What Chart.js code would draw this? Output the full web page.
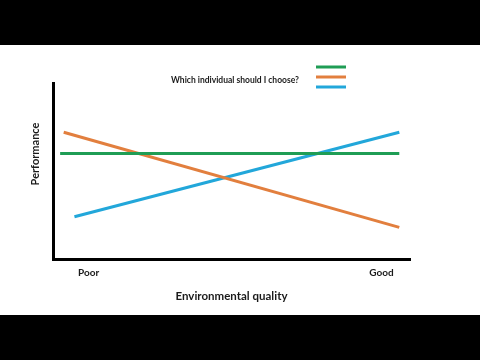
<!DOCTYPE html>
<html>
<head>
<meta charset="utf-8">
<script src="https://cdn.jsdelivr.net/npm/chart.js@4"></script>
<style>
    html, body { margin: 0; padding: 0; background: #fff; }
    #wrap { width: 480px; height: 360px; }
</style>
</head>
<body>
<div id="wrap"><canvas id="perfChart" width="480" height="360"></canvas></div>
<script>
// Dati (qualità ambientale 0-100, performance 0-100)
const individuals = ['Individual A', 'Individual B', 'Individual C'];
const lineColors = ['#1f9d55', '#e27f3e', '#22a7da'];
const qualityX = [[2, 97], [3, 97], [6, 97]];
const performanceY = [[60, 60], [72, 18], [24, 72]];
const tickValues = [10, 92];
const tickLabels = ['Poor', 'Good'];
const questionText = 'Which individual should I choose?';
const yTitle = 'Performance';

const FONT = 'Lato, "Open Sans", sans-serif';

// Bande nere sopra e sotto, titolo asse y e legenda a trattini
const framePlugin = {
    id: 'frame',
    beforeDraw: function(chart) {
        const ctx = chart.ctx;
        ctx.save();
        ctx.fillStyle = '#ffffff';
        ctx.fillRect(0, 0, chart.width, chart.height);
        ctx.fillStyle = '#000000';
        ctx.fillRect(0, 0, chart.width, 45);
        ctx.fillRect(0, 315, chart.width, chart.height - 315);
        ctx.restore();
    },
    afterDraw: function(chart) {
        const ctx = chart.ctx;
        ctx.save();
        ctx.fillStyle = '#1a1a1a';
        ctx.font = 'bold 8.5px ' + FONT;
        ctx.textBaseline = 'middle';
        ctx.textAlign = 'left';
        ctx.fillText(questionText, 171, 80);

        // titolo asse y, un po' sopra il centro come nell'originale
        ctx.font = 'bold 11px ' + FONT;
        ctx.textAlign = 'center';
        ctx.translate(35, 154);
        ctx.rotate(-Math.PI / 2);
        ctx.fillText(yTitle, 0, 0);
        ctx.setTransform(1, 0, 0, 1, 0, 0);

        chart.data.datasets.forEach((ds, i) => {
            ctx.strokeStyle = ds.borderColor;
            ctx.lineWidth = 3;
            ctx.beginPath();
            ctx.moveTo(316, 67 + i * 10);
            ctx.lineTo(346, 67 + i * 10);
            ctx.stroke();
        });
        ctx.restore();
    }
};

const datasets = individuals.map((name, i) => ({
    label: name,
    data: qualityX[i].map((x, j) => ({x: x, y: performanceY[i][j]})),
    borderColor: lineColors[i],
    borderWidth: 3,
    pointRadius: 0,
    fill: false,
    tension: 0
}));

new Chart(document.getElementById('perfChart'), {
    type: 'line',
    data: { datasets: datasets },
    plugins: [framePlugin],
    options: {
        responsive: false,
        animation: false,
        layout: { padding: { left: 0, right: 70, top: 83, bottom: 0 } },
        plugins: {
            legend: { display: false },
            tooltip: { enabled: false }
        },
        scales: {
            x: {
                type: 'linear',
                min: 0,
                max: 100,
                afterFit: function(scale) { scale.height = 101; },
                afterBuildTicks: function(scale) {
                    scale.ticks = tickValues.map(v => ({value: v}));
                },
                grid: { display: false, drawTicks: false },
                border: { display: true, color: '#000', width: 3 },
                ticks: {
                    autoSkip: false,
                    maxRotation: 0,
                    padding: 8,
                    color: '#1a1a1a',
                    font: { family: FONT, size: 10, weight: 'bold' },
                    callback: function(value) {
                        const k = tickValues.indexOf(value);
                        return k >= 0 ? tickLabels[k] : '';
                    }
                },
                title: {
                    display: true,
                    text: 'Environmental quality',
                    color: '#1a1a1a',
                    font: { family: FONT, size: 11.5, weight: 'bold' },
                    padding: { top: 0, bottom: 57 }
                }
            },
            y: {
                type: 'linear',
                min: 0,
                max: 100,
                afterFit: function(scale) { scale.width = 53; },
                grid: { display: false, drawTicks: false },
                border: { display: true, color: '#000', width: 3 },
                ticks: { display: false },
                title: { display: false }
            }
        }
    }
});
</script>
</body>
</html>
